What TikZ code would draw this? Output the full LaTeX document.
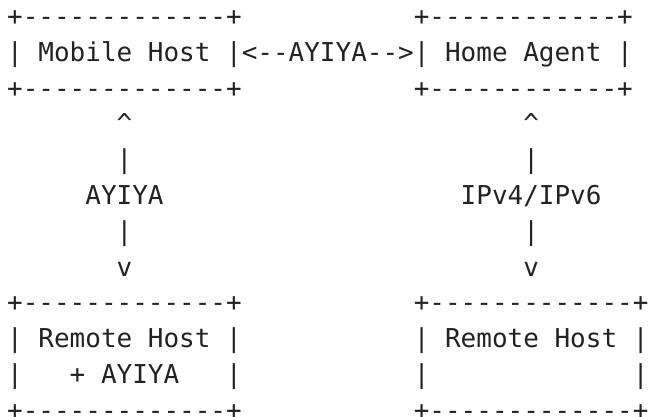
\documentclass[tikz,border=0pt]{standalone}
\usepackage{fontspec}
\setmonofont{DejaVu Sans Mono}
\definecolor{ink}{HTML}{222222}
\tikzset{
  % one character cell: x = column, y = text row (baselines), rows grow downwards
  ascii/.style={anchor=base west, inner sep=0pt, outer sep=0pt, text=ink,
                font=\ttfamily\fontsize{12.99}{15}\selectfont},
}
\begin{document}
\begin{tikzpicture}[x=7.82pt, y=-17.88pt]
\useasboundingbox (-0.459,0.281) rectangle (40.973,11.942);

% Mobile Host <--AYIYA--> Home Agent
\node[ascii] (mhTop) at (0,1) {+-------------+};
\node[ascii] (mh)    at (0,2) {| Mobile Host |};
\node[ascii] (mhBot) at (0,3) {+-------------+};
\node[ascii] (link)  at (15,2) {<--AYIYA-->};
\node[ascii] (haTop) at (26,1) {+------------+};
\node[ascii] (ha)    at (26,2) {| Home Agent |};
\node[ascii] (haBot) at (26,3) {+------------+};

% left vertical link
\node[ascii] (lUp)   at (7,4) {\textasciicircum};
\node[ascii] (lBarA) at (7,5) {|};
\node[ascii] (lLbl)  at (5,6) {AYIYA};
\node[ascii] (lBarB) at (7,7) {|};
\node[ascii] (lDown) at (7,8) {v};

% right vertical link
\node[ascii] (rUp)   at (33,4) {\textasciicircum};
\node[ascii] (rBarA) at (33,5) {|};
\node[ascii] (rLbl)  at (29,6) {IPv4/IPv6};
\node[ascii] (rBarB) at (33,7) {|};
\node[ascii] (rDown) at (33,8) {v};

% Remote Host + AYIYA
\node[ascii] (rh1Top) at (0,9)  {+-------------+};
\node[ascii] (rh1)    at (0,10) {| Remote Host |};
\node[ascii] (rh1L)   at (0,11) {|};
\node[ascii] (rh1Ext) at (4,11) {+ AYIYA};
\node[ascii] (rh1R)   at (14,11) {|};
\node[ascii] (rh1Bot) at (0,12) {+-------------+};

% Remote Host
\node[ascii] (rh2Top) at (26,9)  {+-------------+};
\node[ascii] (rh2)    at (26,10) {| Remote Host |};
\node[ascii] (rh2L)   at (26,11) {|};
\node[ascii] (rh2R)   at (40,11) {|};
\node[ascii] (rh2Bot) at (26,12) {+-------------+};
\end{tikzpicture}
\end{document}
